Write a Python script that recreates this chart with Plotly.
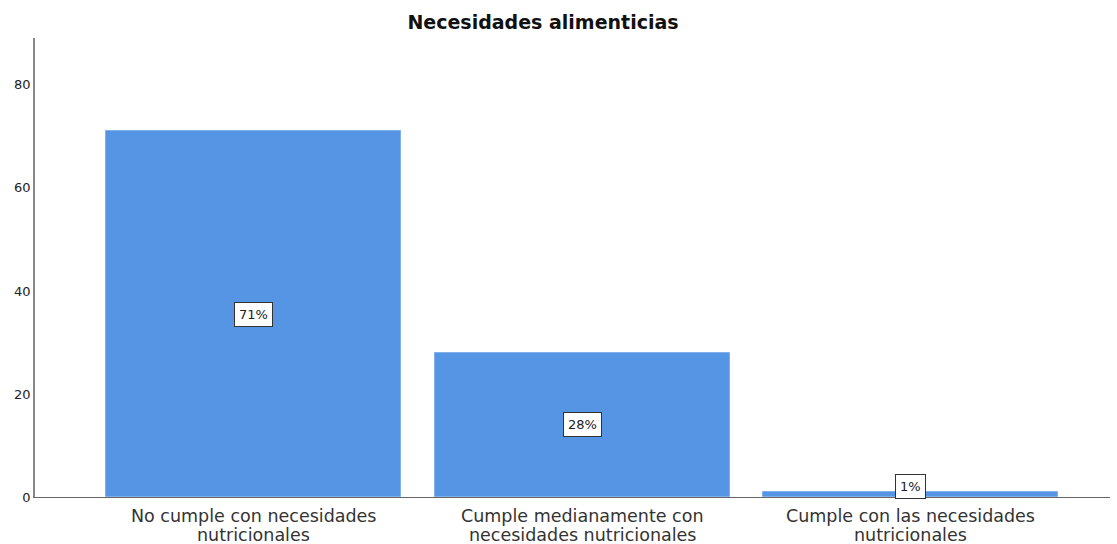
import plotly.graph_objects as go

cat_line1 = ["No cumple con necesidades", "Cumple medianamente con", "Cumple con las necesidades"]
cat_line2 = ["nutricionales", "necesidades nutricionales", "nutricionales"]
values = [71, 28, 1]
pct_labels = ["71%", "28%", "1%"]
y_ticks = [0, 20, 40, 60, 80]

FONT = "DejaVu Sans, Verdana, sans-serif"
xs = list(range(len(values)))

fig = go.Figure()
fig.add_trace(go.Bar(
    x=xs, y=values, width=0.898,
    marker=dict(color="#5595E4", line=dict(color="#7FB0EC", width=1)),
    hoverinfo="skip",
))

for i, (v, t) in enumerate(zip(values, pct_labels)):
    shift = 8 if v < 5 else 0
    fig.add_annotation(
        x=i, y=v / 2, text=t, showarrow=False, yshift=shift,
        font=dict(family=FONT, size=13, color="#222"),
        bgcolor="white", bordercolor="#333", borderwidth=1, borderpad=4,
    )

for i, (l1, l2) in enumerate(zip(cat_line1, cat_line2)):
    for txt, sh in ((l1, -19), (l2, -38)):
        fig.add_annotation(
            x=i, y=0, text=txt, showarrow=False, yshift=sh, yanchor="middle",
            borderpad=0,
            font=dict(family=FONT, size=17.5, color="#333"),
        )

fig.update_layout(
    width=1117, height=544,
    margin=dict(l=35, r=7, t=38, b=47),
    paper_bgcolor="white", plot_bgcolor="white",
    showlegend=False,
    title=dict(text="<b>Necesidades alimenticias</b>", x=543/1117, xanchor="center",
               y=1 - 22/544, yanchor="middle",
               font=dict(family=FONT, size=19, color="#111")),
    bargap=0,
)
fig.update_xaxes(
    range=[-0.665, 2.607], showticklabels=False, automargin=False,
    showline=True, linecolor="#666", linewidth=1, ticks="", showgrid=False, zeroline=False,
)
fig.update_yaxes(
    range=[0, 89.1], tickmode="array", tickvals=y_ticks, automargin=False,
    showline=True, linecolor="#888", linewidth=1.5, ticks="", showgrid=False, zeroline=False,
    tickfont=dict(family=FONT, size=13, color="#222"),
)

fig.write_html("out.html", config={"displayModeBar": False},
               post_script="document.body.style.margin='0';")
